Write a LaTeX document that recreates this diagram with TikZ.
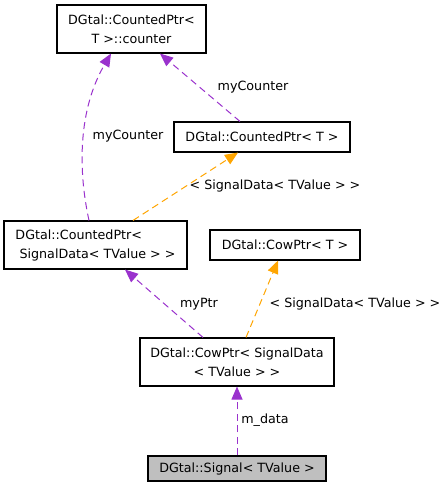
\documentclass[tikz,border=0pt]{standalone}
\usepackage{fontspec}
\setmainfont{DejaVu Sans}
\usetikzlibrary{arrows.meta}
\definecolor{edgepurple}{HTML}{9A32CD}
\definecolor{edgeorange}{HTML}{FFA500}
\begin{document}
\begin{tikzpicture}[x=1pt,y=-1pt,
  box/.style={draw=black, line width=1.1pt, fill=white, inner sep=0pt, align=center,
    font=\fontsize{12.7}{19}\selectfont},
  lbl/.style={inner sep=0pt, font=\fontsize{12.7}{19}\selectfont},
  rel/.style={draw=edgepurple, line width=1pt, dash pattern=on 7pt off 4.5pt,
    -{Triangle[length=13pt,width=11pt,fill=edgepurple]}},
  tmpl/.style={draw=edgeorange, line width=1pt, dash pattern=on 7pt off 4.5pt,
    -{Triangle[length=13pt,width=11pt,fill=edgeorange]}}]
\useasboundingbox (0,0) rectangle (447,493);
\node[box, minimum width=149pt, minimum height=48pt] (ctr) at (131.5,29) {DGtal::CountedPtr<\\T >::counter};
\node[box, minimum width=176pt, minimum height=30pt] (cpT) at (262,137) {DGtal::CountedPtr< T >};
\node[box, minimum width=183pt, minimum height=48pt, align=left] (cps) at (95.5,245) {DGtal::CountedPtr<\\\ SignalData< TValue > >};
\node[box, minimum width=150pt, minimum height=30pt] (cowT) at (285,245) {DGtal::CowPtr< T >};
\node[box, minimum width=194pt, minimum height=48pt] (cow) at (237,362) {DGtal::CowPtr< SignalData\\< TValue > >};
\node[box, fill={rgb,255:red,191;green,191;blue,191}, minimum width=178pt, minimum height=25pt] (sig) at (237,468.5) {DGtal::Signal< TValue >};
% edges
\draw[rel] ([xshift=-6.5pt]cps.north) .. controls (78,170) and (78,110) .. ([xshift=-20.5pt]ctr.south);
\node[lbl] (l1) at (128,136) {myCounter};
\draw[rel] ([xshift=-22pt]cpT.north) -- ([xshift=28.5pt]ctr.south);
\node[lbl] (l2) at (253,87) {myCounter};
\draw[tmpl] ([xshift=37.5pt]cps.north) -- ([xshift=-24pt]cpT.south);
\node[lbl] (l3) at (275,186) {< SignalData< TValue > >};
\draw[rel] ([xshift=-34pt]cow.north) -- ([xshift=29.5pt]cps.south);
\node[lbl] (l4) at (199,304) {myPtr};
\draw[tmpl] ([xshift=9pt]cow.north) -- ([xshift=-7pt]cowT.south);
\node[lbl] (l5) at (355,304) {< SignalData< TValue > >};
\draw[rel] (sig.north) -- (cow.south);
\node[lbl] (l6) at (265,420) {m\_data};
\end{tikzpicture}
\end{document}
